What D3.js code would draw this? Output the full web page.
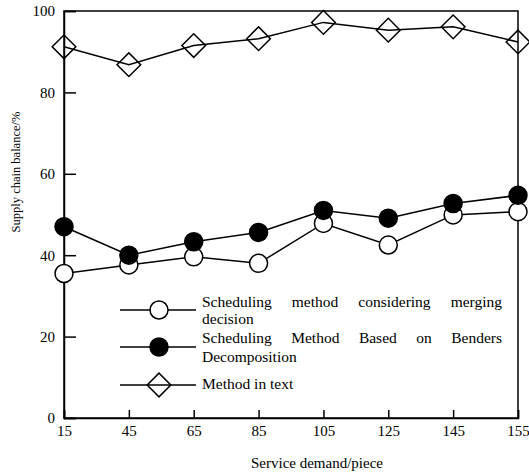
<!DOCTYPE html>
<html>
<head>
<meta charset="utf-8">
<script src="https://cdn.jsdelivr.net/npm/d3@7"></script>
<style>
  body { margin: 0; background: #fff; }
  svg text { font-family: "Liberation Serif", "Times New Roman", serif; fill: #000; }
</style>
</head>
<body>
<div id="chart"></div>
<script>
var categories = ["15", "45", "65", "85", "105", "125", "145", "155"];
var mergingValues = [35.5, 37.6, 39.6, 38.0, 47.8, 42.5, 49.9, 50.7];
var bendersValues = [47.0, 40.0, 43.3, 45.6, 51.0, 49.1, 52.7, 54.7];
var textValues = [91.2, 86.8, 91.5, 93.2, 97.2, 95.3, 96.1, 92.4];
var yTicks = [0, 20, 40, 60, 80, 100];

var width = 529, height = 474;
var margin = {left: 64, right: 11, top: 11, bottom: 56};
var serif = "'Liberation Serif', 'Times New Roman', serif";

var svg = d3.select("#chart").append("svg")
  .attr("width", width)
  .attr("height", height);

var x = d3.scalePoint()
  .domain(categories)
  .range([margin.left, width - margin.right]);
var y = d3.scaleLinear()
  .domain([0, 100])
  .range([height - margin.bottom, margin.top]);

// frame
svg.append("rect")
  .attr("x", margin.left).attr("y", margin.top)
  .attr("width", width - margin.right - margin.left)
  .attr("height", height - margin.bottom - margin.top)
  .attr("fill", "none").attr("stroke", "#000").attr("stroke-width", 1.5);

// axes, ticks pointing inward
var xAxis = svg.append("g")
  .attr("transform", "translate(0," + y(0) + ")")
  .call(d3.axisBottom(x).tickSize(-8).tickPadding(7));
var yAxis = svg.append("g")
  .attr("transform", "translate(" + margin.left + ",0)")
  .call(d3.axisLeft(y).tickValues(yTicks).tickSize(-12).tickPadding(22));
[xAxis, yAxis].forEach(function(g){
  g.attr("font-family", serif);
  g.select(".domain").attr("stroke-width", 1.5);
  g.selectAll(".tick line").attr("stroke-width", 1.5);
  g.selectAll("text").style("font-family", serif).style("font-size", "15px").attr("fill", "#000");
});
yAxis.selectAll("text").attr("x", -9);

// axis titles
svg.append("text")
  .attr("x", 317).attr("y", 468)
  .attr("text-anchor", "middle").style("font-family", serif).style("font-size", "15px")
  .text("Service demand/piece");
svg.append("text")
  .attr("transform", "translate(20,172) rotate(-90)")
  .attr("text-anchor", "middle").style("font-family", serif).style("font-size", "12.5px")
  .text("Supply chain balance/%");

var line = d3.line()
  .x(function(d, i){ return x(categories[i]); })
  .y(function(d){ return y(d); });

var series = [
  {values: textValues, marker: "diamond"},
  {values: mergingValues, marker: "open"},
  {values: bendersValues, marker: "filled"}
];

var diamond = d3.symbol().type(d3.symbolSquare).size(280);

function drawMarker(g, kind) {
  if (kind == "diamond") {
    g.append("path").attr("d", diamond()).attr("transform", "rotate(45)")
      .attr("fill", "none").attr("stroke", "#000").attr("stroke-width", 1.5);
  } else {
    g.append("circle").attr("r", 9)
      .attr("fill", kind == "filled" ? "#000" : "#fff")
      .attr("stroke", "#000").attr("stroke-width", 1.5);
  }
}

series.forEach(function(s){
  svg.append("path")
    .datum(s.values)
    .attr("d", line)
    .attr("fill", "none").attr("stroke", "#000").attr("stroke-width", 1.5);
  svg.append("g").selectAll("g")
    .data(s.values)
    .enter().append("g")
    .attr("transform", function(d, i){ return "translate(" + x(categories[i]) + "," + y(d) + ")"; })
    .each(function(){ drawMarker(d3.select(this), s.marker); });
});

// legend
var legendRows = [
  {marker: "open", y: 310, lines: [["Scheduling method considering merging", 307], ["decision", 324]]},
  {marker: "filled", y: 347, lines: [["Scheduling Method Based on Benders", 343], ["Decomposition", 362]]},
  {marker: "diamond", y: 385, lines: [["Method in text", 389]]}
];
var textLeft = 202, textRight = 502;

legendRows.forEach(function(row){
  svg.append("line")
    .attr("x1", 120).attr("x2", 196).attr("y1", row.y).attr("y2", row.y)
    .attr("stroke", "#000").attr("stroke-width", 1.5);
  drawMarker(svg.append("g").attr("transform", "translate(159," + row.y + ")"), row.marker);

  row.lines.forEach(function(l, li){
    var justify = row.lines.length > 1 && li == 0;
    if (!justify) {
      svg.append("text").attr("x", textLeft).attr("y", l[1])
        .style("font-family", serif).style("font-size", "15.5px").text(l[0]);
      return;
    }
    var words = l[0].split(" ");
    var nodes = words.map(function(w){
      return svg.append("text").attr("y", l[1])
        .style("font-family", serif).style("font-size", "15.5px").text(w);
    });
    var widths = nodes.map(function(n){ return n.node().getComputedTextLength(); });
    var gap = (textRight - textLeft - d3.sum(widths)) / (words.length - 1);
    var cx = textLeft;
    nodes.forEach(function(n, i){
      n.attr("x", cx);
      cx += widths[i] + gap;
    });
  });
});
</script>
</body>
</html>
